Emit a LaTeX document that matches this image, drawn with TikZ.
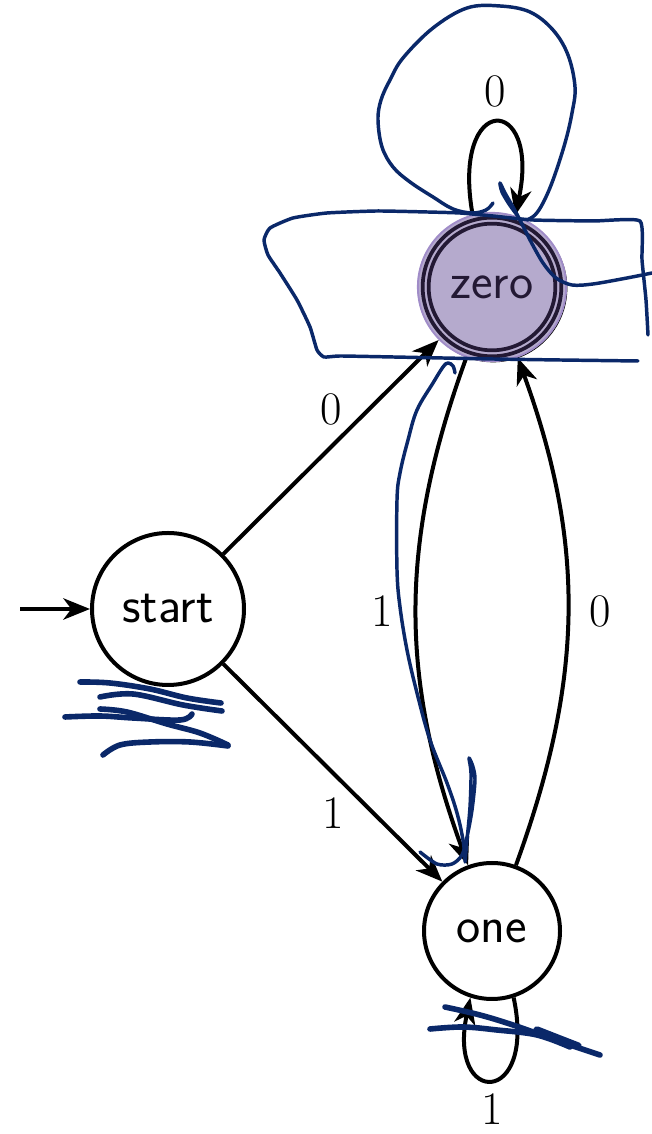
\documentclass[tikz,border=0pt]{standalone}
\usepackage{fontspec}
\usetikzlibrary{arrows.meta}
\definecolor{navy}{RGB}{10,40,105}
\definecolor{lav}{RGB}{181,170,205}
\definecolor{lavring}{RGB}{160,140,200}
\definecolor{zdark}{RGB}{35,25,52}
\begin{document}
\begin{tikzpicture}[x=0.75pt,y=0.75pt,
  statebox/.style={circle, draw=black, line width=3pt, inner sep=0pt, font=\sffamily\fontsize{38.5}{40}\selectfont},
  edge/.style={line width=3pt, -{Stealth[length=20pt,width=16pt,inset=6pt]}},
  lbl/.style={font=\fontsize{35}{36}\selectfont, inner sep=0pt},
  scrib/.style={navy, line width=2.6pt, line cap=round, line join=round},
  thickscrib/.style={navy, line width=4.2pt, line cap=round, line join=round},
]
\useasboundingbox (0,0) rectangle (652,1134);
\begin{scope}[shift={(0,1134)}, yscale=-1]
  \node[statebox, minimum size=114pt] (start) at (168,609) {start};
  \node[statebox, minimum size=102pt] (one) at (492,931) {one};
  \coordinate (zc) at (492,287);
  \coordinate (init) at (20,609);
\end{scope}
% accepting state zero
\fill[black] ([shift={(0.9pt,-0.9pt)}]zc) circle[radius=55.6pt];
\fill[lav] (zc) circle[radius=56pt];
\draw[lavring, line width=1.4pt] (zc) circle[radius=55.6pt];
\draw[zdark, line width=2.8pt] (zc) circle[radius=52pt];
\draw[zdark, line width=2.8pt] (zc) circle[radius=47.5pt];
\node[circle, minimum size=112.5pt, inner sep=0pt, text=zdark, font=\sffamily\fontsize{38.5}{40}\selectfont] (zero) at (zc) {zero};
% edges
\draw[edge] (init) -- (start);
\draw[edge] (start) -- node[lbl, above=15pt]{0} (zero);
\draw[edge] (start) -- node[lbl, below=17pt]{1} (one);
\draw[edge] (zero.250) to[out=250,in=110] node[lbl,left=16pt]{1} (one.110);
\draw[edge] (one.70) to[out=70,in=290] node[lbl,right=15pt]{0} (zero.290);
\draw[edge] (zero.105) .. controls +(100:125) and +(78:125) .. node[lbl,above=10pt]{0} (zero.72);
\draw[edge] (one.288) .. controls +(282:112) and +(258:112) .. node[lbl,below=9pt]{1} (one.252);
% scribbles
\begin{scope}[shift={(0,1134)}, yscale=-1]
\draw[scrib] plot[smooth, tension=0.6] coordinates {(493,203) (486,210) (472,213) (453,209) (433,197) (410,182) (393,167) (382,147) (378,120) (381,100) (390,80) (403,58) (433,28) (467,8) (500,6) (530,12) (553,30) (568,55) (575,87) (572,113) (565,143) (553,180) (543,203) (535,215) (527,220)};
\draw[scrib] plot[smooth, tension=0.3] coordinates {(648,335) (646,300) (642,260) (640,221) (593,221) (533,220) (493,216) (460,213) (427,212) (377,211) (327,213) (293,218) (270,228) (264,240) (268,255) (280,273) (297,300) (310,327) (317,350) (324,357) (340,356) (393,357) (493,359) (560,360) (638,361)};
\draw[scrib] plot[smooth, tension=0.5] coordinates {(517,215) (509,204) (502,192) (500,183) (505,193) (513,207) (521,222) (530,240) (543,263) (556,278) (572,285) (593,284) (627,278) (652,273)};
\draw[scrib] plot[smooth, tension=0.6] coordinates {(455,373) (453,366) (448,363) (443,367) (433,383) (417,410) (408,440) (400,473) (397,500) (397,570) (400,607) (407,650) (417,693) (430,740) (447,783) (457,813) (463,840) (465,860)};
\draw[scrib] plot[smooth, tension=0.5] coordinates {(420,852) (437,864) (452,864) (462,855) (467,837) (472,810) (475,780) (473,767) (469,758) (471,773) (470,807) (467,840) (465,862)};
\draw[thickscrib] plot[smooth, tension=0.6] coordinates {(80,682) (110,683) (150,689) (187,698) (221,703)};
\draw[thickscrib] plot[smooth, tension=0.6] coordinates {(100,697) (133,694) (183,705) (222,711)};
\draw[thickscrib] plot[smooth, tension=0.6] coordinates {(65,717) (100,716) (133,718) (180,720) (192,714)};
\draw[thickscrib] plot[smooth, tension=0.6] coordinates {(100,709) (127,712) (167,724) (200,733) (228,745)};
\draw[thickscrib] plot[smooth, tension=0.6] coordinates {(228,746) (190,742) (150,742) (120,745) (103,755)};
\draw[thickscrib] plot[smooth, tension=0.6] coordinates {(445,1007) (480,1015) (513,1025) (547,1037) (570,1045) (600,1055)};
\draw[thickscrib] plot[smooth, tension=0.6] coordinates {(430,1029) (463,1027) (497,1030) (537,1035) (570,1047)};
\draw[navy, line width=5.5pt, line cap=round] plot[smooth] coordinates {(537,1030) (560,1039) (578,1046)};
\end{scope}
\end{tikzpicture}
\end{document}
